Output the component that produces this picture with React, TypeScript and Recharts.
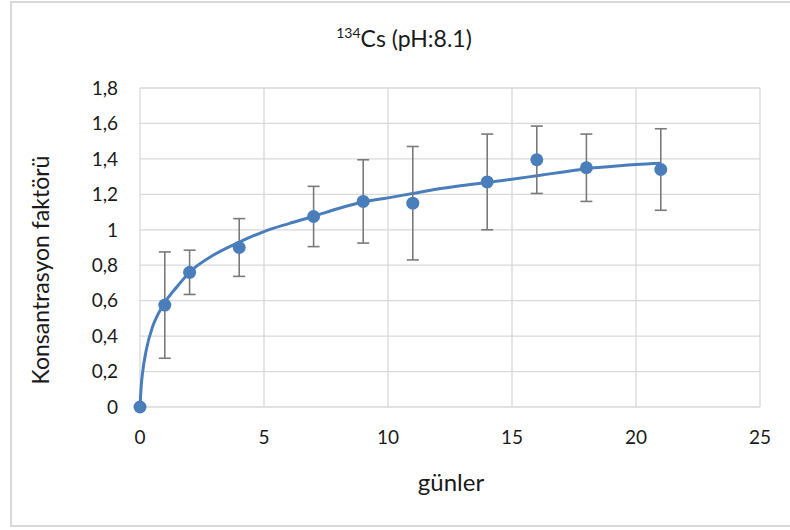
import React from 'react';
import { ComposedChart, Line, Scatter, ErrorBar, XAxis, YAxis, CartesianGrid } from 'recharts';

// measured points (gün, faktör, ± hata)
const days = [0, 1, 2, 4, 7, 9, 11, 14, 16, 18, 21];
const factor = [0, 0.575, 0.76, 0.9, 1.075, 1.16, 1.15, 1.27, 1.395, 1.35, 1.34];
const errors = [0, 0.3, 0.125, 0.163, 0.17, 0.235, 0.32, 0.27, 0.19, 0.19, 0.23];

// fitted curve
const curveX = [0, 0.05, 0.1, 0.25, 0.5, 0.75, 1, 1.5, 2, 3, 4, 5, 6, 7, 8, 9, 10, 11, 12, 13, 14, 15, 16, 17, 18, 19, 20, 21];
const curveY = [0, 0.12, 0.19, 0.32, 0.45, 0.53, 0.59, 0.68, 0.76, 0.86, 0.93, 0.99, 1.035, 1.076, 1.12, 1.157, 1.18, 1.205, 1.23, 1.25, 1.267, 1.285, 1.305, 1.325, 1.345, 1.357, 1.368, 1.375];

const xTicks = [0, 5, 10, 15, 20, 25];
const yTicks = [0, 0.2, 0.4, 0.6, 0.8, 1, 1.2, 1.4, 1.6, 1.8];

const points = days.map((d, i) => ({ x: d, y: factor[i], err: errors[i] }));
const curve = curveX.map((x, i) => ({ x, y: curveY[i] }));

const blue = '#4a7ebb';
const font = 'Lato, "Open Sans", sans-serif';

const Dot = (props: any) => {
    const { cx, cy } = props;
    if (cx == null || cy == null) return null;
    return <circle cx={cx} cy={cy} r={6.5} fill={blue} />;
};

export default function App() {
    return (
        <div style={{ position: 'absolute', left: 0, top: 0, width: 790, height: 530, background: '#fff', overflow: 'hidden', fontFamily: font }}>
            <div style={{ position: 'absolute', left: 10, top: 1, width: 790, height: 522, border: '2px solid #d9d9d9' }} />
            <ComposedChart
                width={790}
                height={530}
                margin={{ top: 88, right: 30, bottom: 93, left: 100 }}
                style={{ position: 'absolute', left: 0, top: 0 }}
            >
                <CartesianGrid stroke="#d9d9d9" strokeWidth={1.3} />
                <XAxis
                    dataKey="x"
                    type="number"
                    domain={[0, 25]}
                    ticks={xTicks}
                    height={30}
                    axisLine={false}
                    tickLine={false}
                    tickSize={0}
                    tickMargin={24}
                    tick={{ fill: '#1a1a1a', fontSize: 19, fontFamily: font }}
                />
                <YAxis
                    dataKey="y"
                    type="number"
                    domain={[0, 1.8]}
                    ticks={yTicks}
                    width={40}
                    axisLine={false}
                    tickLine={false}
                    tickSize={0}
                    tickMargin={22}
                    tickFormatter={(v: number) => String(v).replace('.', ',')}
                    tick={{ fill: '#1a1a1a', fontSize: 19, fontFamily: font }}
                />
                <Line
                    data={curve}
                    dataKey="y"
                    type="monotone"
                    stroke={blue}
                    strokeWidth={3}
                    dot={false}
                    activeDot={false}
                    isAnimationActive={false}
                />
                <Scatter data={points} dataKey="y" shape={Dot} isAnimationActive={false}>
                    <ErrorBar dataKey="err" direction="y" width={6} stroke="#7a7a7a" strokeWidth={1.6} />
                </Scatter>
            </ComposedChart>
            <div style={{ position: 'absolute', left: 0, width: 808, top: 24, textAlign: 'center', fontSize: 23, color: '#1a1a1a' }}>
                <sup style={{ fontSize: 14 }}>134</sup>Cs (pH:8.1)
            </div>
            <div style={{ position: 'absolute', left: 0, width: 902, top: 467, textAlign: 'center', fontSize: 24, color: '#1a1a1a' }}>
                günler
            </div>
            <div
                style={{
                    position: 'absolute',
                    left: 40,
                    top: 270,
                    transform: 'translate(-50%, -50%) rotate(-90deg)',
                    whiteSpace: 'nowrap',
                    fontSize: 23,
                    color: '#1a1a1a',
                }}
            >
                Konsantrasyon faktörü
            </div>
        </div>
    );
}
